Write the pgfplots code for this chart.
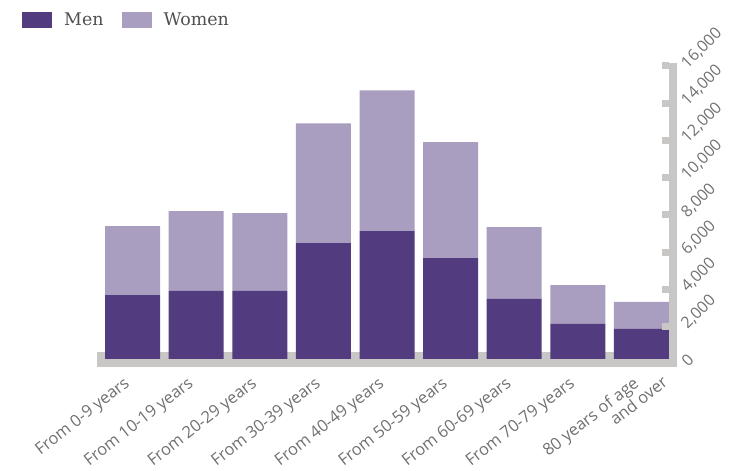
\documentclass[border=0pt]{standalone}
\usepackage{fontspec}
\setmainfont{Open Sans}
\newfontfamily\legendfont{DejaVu Serif}
\usepackage{pgfplots}
\pgfplotsset{compat=1.18}
\definecolor{men}{HTML}{523B7E}
\definecolor{women}{HTML}{A99DC0}
\definecolor{axisgray}{HTML}{C8C7C5}
\definecolor{labelgray}{HTML}{707070}
\definecolor{legendtext}{HTML}{505050}

\begin{document}
\begin{tikzpicture}
% grey base band and right-hand scale bar, drawn first so the bars sit on top
\fill[axisgray] (97bp,104bp) rectangle (677bp,119bp);
\fill[axisgray] (669bp,104bp) rectangle (677bp,408.3bp);
\begin{axis}[
  set layers, axis on top,
  at={(97bp,104bp)}, anchor=south west,
  x=63.6bp, y=0.01865bp,
  xmin=-0.56, xmax=8.436,
  ymin=-430, ymax=15890,
  ybar stacked, bar width=55bp,
  axis x line*=bottom, axis y line*=right,
  axis line style={draw=none},
  scaled y ticks=false,
  xtick={0,...,8},
  xticklabels={From 0-9 years, From 10-19 years, From 20-29 years,
    From 30-39 years, From 40-49 years, From 50-59 years,
    From 60-69 years, From 70-79 years,
    {80 years of age\\\hspace*{72bp}\rlap{and over}}},
  xtick style={draw=none},
  xticklabel style={xshift=-9.5bp, yshift=-8.5bp, anchor=north east,
    rotate=38, inner sep=0pt,
    font=\fontsize{16.5}{17}\selectfont, text=labelgray, align=left},
  ytick={-268,1732,3732,5732,7732,9732,11732,13732,15732},
  yticklabels={0,{2,000},{4,000},{6,000},{8,000},{10,000},{12,000},{14,000},{16,000}},
  ytick align=inside,
  major tick length=7bp,
  ytick style={draw=axisgray, line width=7bp},
  yticklabel style={xshift=15bp, anchor=west, rotate=45, inner sep=0pt,
    font=\fontsize{16}{18}\selectfont, text=labelgray},
  legend columns=2,
  legend style={draw=none, fill=none, inner sep=0pt,
    at={(axis description cs:-0.131,1.173)}, anchor=north west,
    font=\legendfont\fontsize{17.5}{20}\selectfont, text=legendtext,
    /tikz/every odd column/.append style={column sep=10bp},
    /tikz/every even column/.append style={column sep=16bp},
    cells={anchor=west}},
  legend image code/.code={\fill[#1] (0bp,-8bp) rectangle (30bp,8bp);},
  clip=false,
]
\addplot[fill=men, draw=none] coordinates {
  (0,3430) (1,3650) (2,3650) (3,6220) (4,6860) (5,5420) (6,3220) (7,1880) (8,1610)};
\addplot[fill=women, draw=none] coordinates {
  (0,3700) (1,4290) (2,4180) (3,6430) (4,7560) (5,6220) (6,3860) (7,2090) (8,1450)};
\legend{Men, Women}
\end{axis}
\pgfresetboundingbox
\path (0,0) rectangle (744bp,471bp);
\end{tikzpicture}
\end{document}
